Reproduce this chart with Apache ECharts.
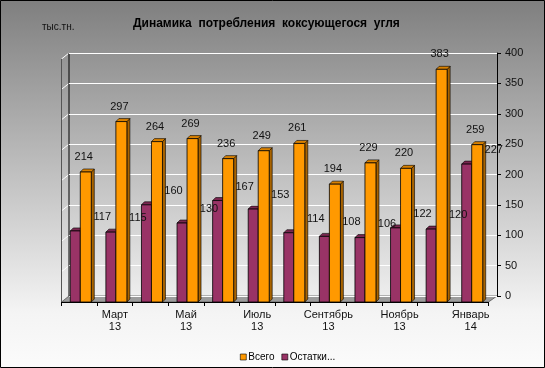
<!DOCTYPE html>
<html><head><meta charset="utf-8">
<script src="https://cdn.jsdelivr.net/npm/echarts@6/dist/echarts.min.js"></script>
<style>html,body{margin:0;padding:0;background:#fff}#c{width:545px;height:368px;}</style>
</head><body><div id="c"></div>
<script>
const categories = ['Февраль\n13','Март\n13','Апрель\n13','Май\n13','Июнь\n13','Июль\n13','Август\n13','Сентябрь\n13','Октябрь\n13','Ноябрь\n13','Декабрь\n13','Январь\n14'];
const totalValues = [214,297,264,269,236,249,261,194,229,220,383,259];
const stockValues = [117,115,160,130,167,153,114,108,106,122,120,227];
const yTicks = [0,50,100,150,200,250,300,350,400];
const seriesNames = ['Всего','Остатки'];

const W = 545, H = 368;
const BACK = {left:69, right:48, top:53, bottom:72};
const FRONT = {left:61.5, right:56.5, top:59, bottom:66};
const FONT = '"Liberation Sans", Arial, sans-serif';

function render3D(xoff, w, front, topc, side, ldx, ldy){
  return function(params, api){
    const i = api.value(0), v = api.value(1);
    const t = api.coord([i, v]); const b = api.coord([i, 0]);
    const x0 = t[0] + xoff, x1 = x0 + w, y0 = t[1], y1 = b[1];
    const dx = 3, dy = -3;
    return {type:'group', children:[
      {type:'polygon', shape:{points:[[x1,y0],[x1+dx,y0+dy],[x1+dx,y1+dy],[x1,y1]]}, style:{fill:side, stroke:'#000', lineWidth:0.6}},
      {type:'polygon', shape:{points:[[x0,y0],[x0+dx,y0+dy],[x1+dx,y0+dy],[x1,y0]]}, style:{fill:topc, stroke:'#000', lineWidth:0.6}},
      {type:'rect', shape:{x:x0, y:y0, width:w, height:y1-y0}, style:{fill:front, stroke:'#000', lineWidth:0.8}},
      {type:'text', z2:100, style:{text:String(v), x:(x0+x1)/2+ldx, y:y0+ldy, align:'center', verticalAlign:'middle', fontSize:11, fontFamily:FONT, fill:'#111'}}
    ]};
  };
}

const chart = echarts.init(document.getElementById('c'), null, {renderer:'canvas'});
const option = {
  animation:false,
  title:{text:'Динамика  потребления  коксующегося  угля', left:128, top:13,
    textStyle:{fontSize:12, fontWeight:'bold', fontFamily:FONT, color:'#000'}},
  legend:{left:235, top:347, itemWidth:6, itemHeight:6, itemGap:7, icon:'rect',
    data:seriesNames,
    formatter:n => n === 'Остатки' ? 'Остатки...' : n,
    itemStyle:{borderColor:'#000', borderWidth:0.6},
    textStyle:{fontSize:10, fontFamily:FONT, color:'#000', padding:[0,0,0,-3]}},
  grid:[
    {left:BACK.left, right:BACK.right, top:BACK.top, bottom:BACK.bottom},
    {left:FRONT.left, right:FRONT.right, top:FRONT.top, bottom:FRONT.bottom}
  ],
  xAxis:[
    {gridIndex:0, type:'category', data:categories, show:false},
    {gridIndex:1, type:'category', data:categories, boundaryGap:true,
      axisLine:{lineStyle:{color:'#000', width:1}},
      axisTick:{show:true, length:4, interval:0, lineStyle:{color:'#000'}},
      axisLabel:{interval:(i)=> i % 2 === 1, fontSize:11, lineHeight:12, fontFamily:FONT, color:'#111', margin:7}}
  ],
  yAxis:[
    {gridIndex:0, type:'value', position:'right', min:yTicks[0], max:yTicks[yTicks.length-1], interval:yTicks[1]-yTicks[0],
      axisLine:{show:true, lineStyle:{color:'#000'}},
      axisTick:{show:true, length:4, lineStyle:{color:'#000'}},
      axisLabel:{fontSize:11, fontFamily:FONT, color:'#111', margin:8},
      splitLine:{show:true, lineStyle:{color:'#fff', width:1}}},
    {gridIndex:1, type:'value', min:yTicks[0], max:yTicks[yTicks.length-1], show:false}
  ],
  series:[
    {name:seriesNames[1], type:'custom', xAxisIndex:1, yAxisIndex:1,
      itemStyle:{color:'#993366'},
      data:stockValues.map((v,i)=>[i,v]), encode:{x:0,y:1},
      renderItem:render3D(-9, 10, '#993366', '#7a2750', '#5e1d3e', 27, -14)},
    {name:seriesNames[0], type:'custom', xAxisIndex:1, yAxisIndex:1,
      itemStyle:{color:'#ff9900'},
      data:totalValues.map((v,i)=>[i,v]), encode:{x:0,y:1},
      renderItem:render3D(1, 11, '#ff9900', '#d98100', '#a86300', -2, -15)}
  ]
};
chart.setOption(option);

// decorative 3D wall / floor computed from the axes
const g = [];
g.push({type:'rect', z:-100, silent:true, shape:{x:0,y:0,width:W,height:H},
  style:{fill:new echarts.graphic.LinearGradient(0,0,0,1,[{offset:0,color:'#7f7f7f'},{offset:0.85,color:'#f4f4f4'},{offset:1,color:'#fbfbfb'}])}});
const bx0 = BACK.left, bx1 = W - BACK.right, by0 = H - BACK.bottom;
const fx0 = FRONT.left, fx1 = W - FRONT.right, fy0 = H - FRONT.bottom;
const ddx = fx0 - bx0, ddy = fy0 - by0;
g.push({type:'polygon', z:-5, silent:true, shape:{points:[[fx0,fy0],[fx1,fy0],[bx1,by0],[bx0,by0]]},
  style:{fill:'#9c9c9c', stroke:'#555', lineWidth:0.8}});
yTicks.forEach(v => {
  const y = chart.convertToPixel({yAxisIndex:0}, v);
  if (v > 0) g.push({type:'line', z:-5, silent:true, shape:{x1:bx0, y1:y, x2:bx0+ddx, y2:y+ddy}, style:{stroke:'#fff', lineWidth:1}});
});
const ytop = chart.convertToPixel({yAxisIndex:0}, yTicks[yTicks.length-1]);
g.push({type:'line', z:-4, silent:true, shape:{x1:bx0, y1:ytop, x2:bx0, y2:by0}, style:{stroke:'#000', lineWidth:1}});
g.push({type:'line', z:-4, silent:true, shape:{x1:fx0, y1:ytop+ddy, x2:fx0, y2:fy0}, style:{stroke:'#555', lineWidth:1}});
g.push({type:'text', silent:true, style:{text:'тыс.тн.', x:42, y:22, fontSize:10, fontFamily:FONT, fill:'#111'}});
g.push({type:'rect', z:100, silent:true, shape:{x:0.5,y:0.5,width:W-1,height:H-1}, style:{fill:null, stroke:'#000', lineWidth:1}});
chart.setOption({graphic:g});
</script></body></html>
